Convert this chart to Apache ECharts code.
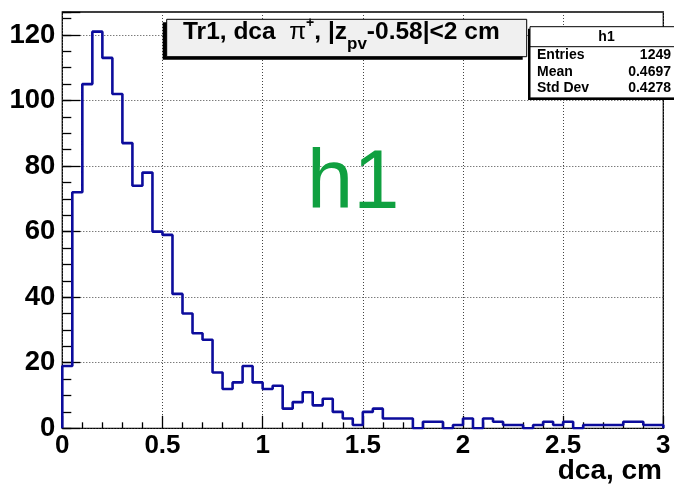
<!DOCTYPE html>
<html>
<head>
<meta charset="utf-8">
<script src="https://cdn.jsdelivr.net/npm/echarts@6/dist/echarts.min.js"></script>
<style>
  html, body { margin: 0; padding: 0; background: #ffffff; }
  #chart { width: 674px; height: 486px; }
</style>
</head>
<body>
<div id="chart"></div>
<script>
// dca histogram for pi+ tracks: 60 bins of 0.05 cm between 0 and 3 cm
const binLow = 0;
const binWidth = 0.05;
const counts = [
  19, 72, 105, 121, 113, 102, 87, 74, 78, 60,
  59, 41, 35, 29, 27, 17, 12, 14, 19, 14,
  12, 13, 6, 8, 11, 7, 9, 5, 3, 1,
  5, 6, 3, 3, 3, 0, 2, 2, 0, 1,
  3, 0, 3, 2, 1, 1, 0, 1, 2, 1,
  2, 0, 1, 1, 1, 1, 2, 2, 1, 1
];
const xMax = 3;
const yMax = 127;
const yMajor = 20;
const yMinor = 5;
const xMajor = 0.5;

const histName = 'h1';
const statsLabels = ['Entries', 'Mean', 'Std Dev'];
const statsValues = ['1249', '0.4697', '0.4278'];
const xTitle = 'dca, cm';

// pieces of the title: "Tr1, dca  π+, |z_pv-0.58|<2 cm"
const titleParts = [
  { text: 'Tr1, dca  ', kind: 'main' },
  { text: 'π', kind: 'symbol' },
  { text: '+', kind: 'sup' },
  { text: ', |z', kind: 'main' },
  { text: 'pv', kind: 'sub' },
  { text: '-0.58|<2 cm', kind: 'main' }
];

// histogram outline as a stepped path through the bin edges
const outline = [[binLow, 0]];
counts.forEach((c, i) => outline.push([binLow + i * binWidth, c]));
const lastEdge = binLow + counts.length * binWidth;
outline.push([lastEdge, counts[counts.length - 1]]);
outline.push([lastEdge, 0]);

const FONT = '"Liberation Sans", Arial, Helvetica, sans-serif';
const chart = echarts.init(document.getElementById('chart'), null, { renderer: 'canvas' });

// lay the title pieces out one after another
const measureCtx = document.createElement('canvas').getContext('2d');
function textWidth(str, size, weight) {
  measureCtx.font = weight + ' ' + size + 'px ' + FONT;
  return measureCtx.measureText(str).width;
}
const partStyle = {
  main:   { size: 24.5, weight: 'bold',   dy: 0 },
  symbol: { size: 24.5, weight: 'normal', dy: 0 },
  sup:    { size: 14,   weight: 'bold',   dy: -12 },
  sub:    { size: 17,   weight: 'bold',   dy: 10 }
};
const titleBaseline = 40.5;
let cursor = 183;
const titleTexts = titleParts.map(p => {
  const st = partStyle[p.kind];
  const el = {
    type: 'text',
    z: 10,
    style: {
      text: p.text,
      x: cursor,
      y: titleBaseline + st.dy - 0.35 * st.size,
      fill: '#000',
      font: st.weight + ' ' + st.size + 'px ' + FONT,
      align: 'left',
      verticalAlign: 'middle'
    }
  };
  cursor += textWidth(p.text, st.size, st.weight);
  return el;
});

// statistics box rows
const statsTop = 26.7, statsLeft = 530, statsWidth = 153, headerH = 20, rowH = 16.4;
const statsTexts = [];
statsTexts.push({
  type: 'text', z: 10,
  style: {
    text: histName, x: statsLeft + statsWidth / 2, y: statsTop + headerH / 2 + 0.5,
    fill: '#000', font: 'bold 14px ' + FONT, align: 'center', verticalAlign: 'middle'
  }
});
statsLabels.forEach((lab, i) => {
  const yc = statsTop + headerH + rowH * (i + 0.5) + 0.5;
  statsTexts.push({
    type: 'text', z: 10,
    style: { text: lab, x: 537, y: yc, fill: '#000', font: 'bold 14px ' + FONT, align: 'left', verticalAlign: 'middle' }
  });
  statsTexts.push({
    type: 'text', z: 10,
    style: { text: statsValues[i], x: 671, y: yc, fill: '#000', font: 'bold 14px ' + FONT, align: 'right', verticalAlign: 'middle' }
  });
});

const gridLine = { color: '#444', width: 1, type: [1, 2] };

chart.setOption({
  animation: false,
  backgroundColor: '#ffffff',
  grid: {
    left: 62.3, right: 10.7, top: 12, bottom: 57.7,
    show: true, borderColor: '#000', borderWidth: 1.3, backgroundColor: 'transparent',
    containLabel: false, outerBoundsMode: 'none'
  },
  xAxis: {
    type: 'value', min: binLow, max: xMax, interval: xMajor,
    axisLine: { show: false },
    axisTick: { show: true, inside: true, length: 12.5, lineStyle: { color: '#000', width: 1.3 } },
    minorTick: { show: true, splitNumber: 5, length: 6, lineStyle: { color: '#000', width: 1.3 } },
    splitLine: { show: true, lineStyle: gridLine },
    axisLabel: {
      show: true, margin: 5, color: '#000', fontFamily: FONT, fontWeight: 'bold', fontSize: 26,
      formatter: v => String(+v.toFixed(2))
    }
  },
  yAxis: [
    {
      type: 'value', min: 0, max: yMax, interval: yMajor,
      axisLine: { show: false },
      axisTick: { show: true, inside: true, length: 18, lineStyle: { color: '#000', width: 1.3 } },
      splitLine: { show: true, lineStyle: gridLine },
      axisLabel: {
        show: true, margin: 7, color: '#000', fontFamily: FONT, fontWeight: 'bold', fontSize: 27.5,
        formatter: v => (v % yMajor === 0 ? String(v) : '')
      }
    },
    {
      // secondary scale carrying the small ticks every 5 counts
      type: 'value', min: 0, max: yMax, interval: yMinor, position: 'left', offset: 0,
      axisLine: { show: false },
      axisTick: { show: true, inside: true, length: 9, lineStyle: { color: '#000', width: 1.3 } },
      splitLine: { show: false },
      axisLabel: { show: false }
    }
  ],
  series: [{
    type: 'line',
    name: histName,
    step: 'end',
    data: outline,
    yAxisIndex: 0,
    showSymbol: false,
    symbol: 'none',
    clip: true,
    lineStyle: { color: '#0c0c9c', width: 2.6 },
    z: 5
  }],
  graphic: [
    // title box with its shadow
    { type: 'rect', z: 8, shape: { x: 162.7, y: 22.3, width: 360, height: 37.4 }, style: { fill: '#000' } },
    { type: 'rect', z: 9, shape: { x: 166.7, y: 19.3, width: 360, height: 37.4 }, style: { fill: '#f0f0f0', stroke: '#000', lineWidth: 1 } },
    ...titleTexts,
    // statistics box
    { type: 'rect', z: 8, shape: { x: statsLeft - 2, y: statsTop + 2, width: statsWidth, height: headerH + rowH * 3 + 2 }, style: { fill: '#000' } },
    { type: 'rect', z: 9, shape: { x: statsLeft, y: statsTop, width: statsWidth, height: headerH + rowH * 3 + 2 }, style: { fill: '#fff', stroke: '#000', lineWidth: 1 } },
    { type: 'line', z: 9, shape: { x1: statsLeft, y1: statsTop + headerH, x2: statsLeft + statsWidth, y2: statsTop + headerH }, style: { stroke: '#000', lineWidth: 1 } },
    ...statsTexts,
    // x axis title, right-aligned under the axis end
    {
      type: 'text', z: 10,
      style: {
        text: xTitle, x: 662, y: 481.5 - 0.35 * 28, fill: '#000',
        font: 'bold 28px ' + FONT, align: 'right', verticalAlign: 'middle'
      }
    },
    // histogram name drawn inside the pad
    {
      type: 'text', z: 10,
      style: {
        text: histName, x: 307, y: 214 - 0.35 * 83, fill: '#10a040',
        font: 'normal 83px ' + FONT, align: 'left', verticalAlign: 'middle'
      }
    }
  ]
});
</script>
</body>
</html>
